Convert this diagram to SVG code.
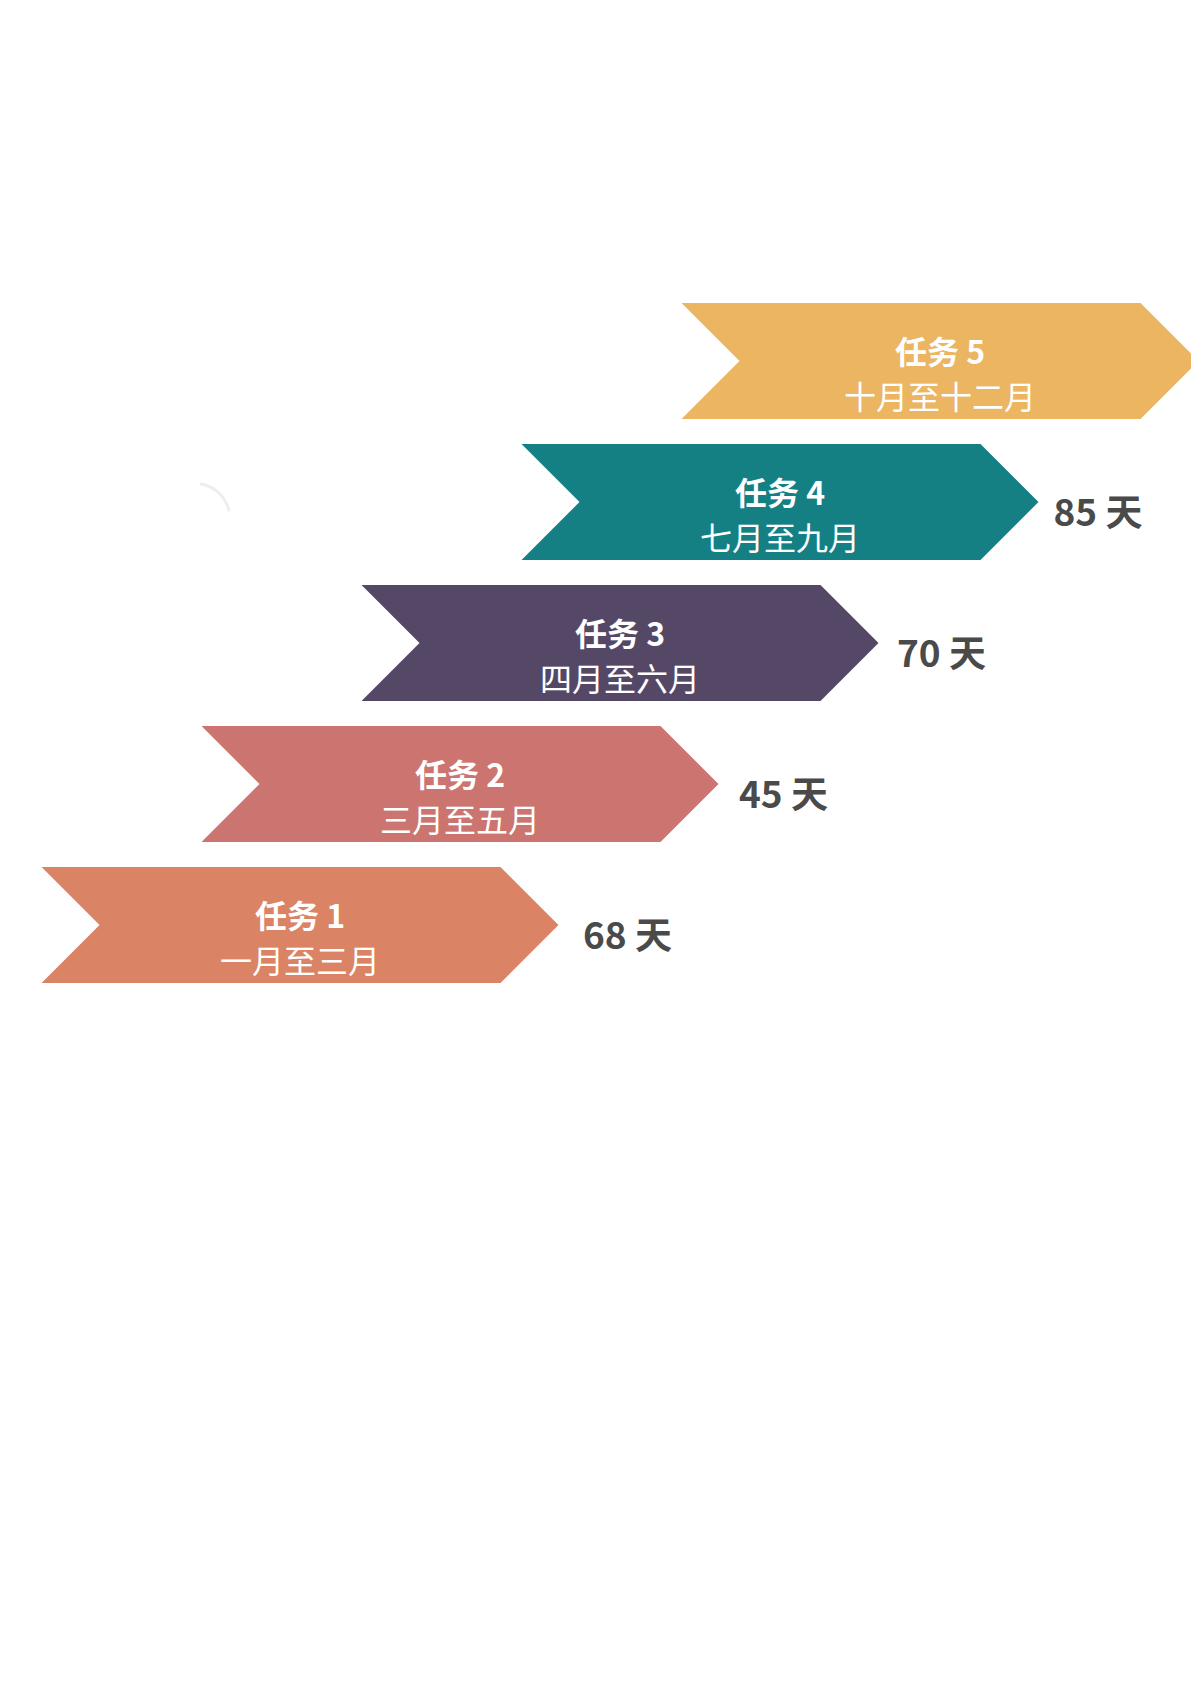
<svg xmlns="http://www.w3.org/2000/svg" width="1191" height="1684" viewBox="0 0 1191 1684">
<defs>
<style>
.title{font-family:"Noto Sans CJK SC","Noto Sans",sans-serif;font-size:32px;font-weight:700;fill:#ffffff;text-anchor:middle}
.sub{font-family:"Noto Sans CJK SC","Noto Sans",sans-serif;font-size:32px;font-weight:400;fill:#ffffff;text-anchor:middle}
.days{font-family:"Noto Sans CJK SC","Noto Sans",sans-serif;font-size:37px;font-weight:700;fill:#4a4a4a}
</style>
<path id="chev" d="M0,0 H459 L517,58 L459,116 H0 L58,58 Z"/>
</defs>
<rect width="1191" height="1684" fill="#ffffff"/>
<path d="M201,484 Q222,488 229,510" fill="none" stroke="#eeeeee" stroke-width="3" stroke-linecap="round"/>
<g id="task1" transform="translate(41.5,867)">
<use href="#chev" fill="#DB8465"/>
<text class="title" x="258.5" y="61">任务 1</text>
<text class="sub" x="258.5" y="106">一月至三月</text>
<text class="days" x="541.5" y="82">68 天</text>
</g>
<g id="task2" transform="translate(201.5,726)">
<use href="#chev" fill="#CC7570"/>
<text class="title" x="258.5" y="61">任务 2</text>
<text class="sub" x="258.5" y="106">三月至五月</text>
<text class="days" x="537.5" y="82">45 天</text>
</g>
<g id="task3" transform="translate(361.5,585)">
<use href="#chev" fill="#544866"/>
<text class="title" x="258.5" y="61">任务 3</text>
<text class="sub" x="258.5" y="106">四月至六月</text>
<text class="days" x="535.5" y="82">70 天</text>
</g>
<g id="task4" transform="translate(521.5,444)">
<use href="#chev" fill="#148084"/>
<text class="title" x="258.5" y="61">任务 4</text>
<text class="sub" x="258.5" y="106">七月至九月</text>
<text class="days" x="532" y="82">85 天</text>
</g>
<g id="task5" transform="translate(681.5,303)">
<use href="#chev" fill="#EBB562"/>
<text class="title" x="258.5" y="61">任务 5</text>
<text class="sub" x="258.5" y="106">十月至十二月</text>
</g>
<g id="connectors"></g>
</svg>
